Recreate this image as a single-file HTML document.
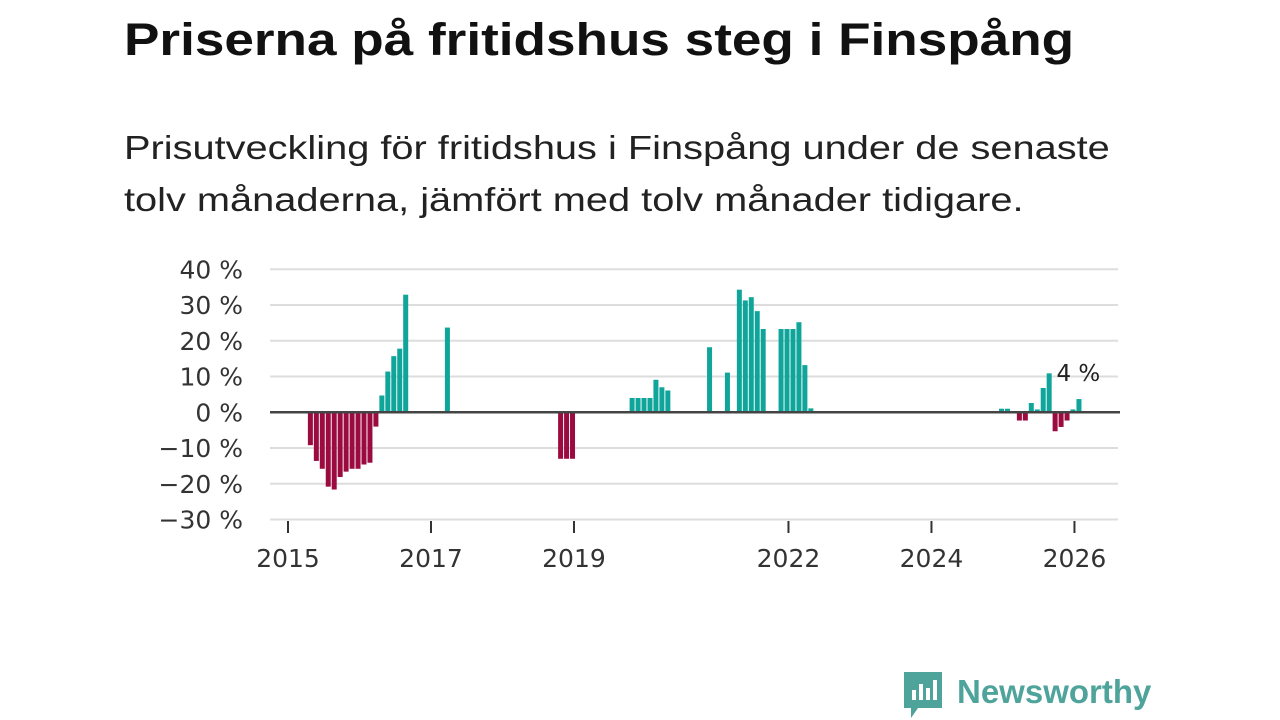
<!DOCTYPE html>
<html><head><meta charset="utf-8"><style>
body{margin:0;width:1280px;height:720px;background:#fff;overflow:hidden;font-family:"Liberation Sans",sans-serif;}
#title{position:absolute;left:124px;top:14px;font-size:45px;font-weight:bold;color:#111;margin:0;transform:scaleX(1.18);transform-origin:0 0;white-space:nowrap;}
#sub{position:absolute;left:124px;top:122px;font-size:33px;line-height:52px;color:#222;transform:scaleX(1.205);transform-origin:0 0;white-space:nowrap;}
svg{position:absolute;left:0;top:0;}
</style></head><body>
<h1 id="title">Priserna på fritidshus steg i Finspång</h1>
<div id="sub">Prisutveckling för fritidshus i Finspång under de senaste<br>tolv månaderna, jämfört med tolv månader tidigare.</div>
<svg id="chart" width="1280" height="720"></svg>
<script>
const monthIdx=[3,4,5,6,7,8,9,10,11,12,13,14,15,16,17,18,19,26,45,46,47,57,58,59,60,61,62,63,70,73,75,76,77,78,79,82,83,84,85,86,87,119,120,122,123,124,125,126,127,128,129,130,131,132];
const values=[-9.2,-13.6,-15.8,-20.8,-21.6,-18.1,-16.6,-15.8,-15.8,-14.6,-14.1,-4,4.7,11.4,15.7,17.8,32.9,23.7,-13,-13,-13,4,4,4,4,9.1,7,6.1,18.2,11.1,34.3,31.3,32.2,28.3,23.3,23.3,23.3,23.3,25.2,13.2,1.1,1,1,-2.3,-2.3,2.6,0.8,6.8,10.9,-5.3,-4.1,-2.3,0.8,3.7];
const yTicks=[40,30,20,10,0,-10,-20,-30];
const xTickYears=[2015,2017,2019,2022,2024,2026];
const lastLabel="4 %";
const svg=document.getElementById('chart');const NS='http://www.w3.org/2000/svg';
const AX='DejaVu Sans, sans-serif';
const y=v=>412.3-v*3.575;
const x=m=>288+m*5.958;
function mk(t,a){const e=document.createElementNS(NS,t);for(const k in a)e.setAttribute(k,a[k]);svg.appendChild(e);return e;}
yTicks.forEach(t=>{
 if(t!==0){const g=mk('line',{x1:270,x2:1118,y1:y(t),y2:y(t),stroke:'#ddd','stroke-width':2});
 
 }
 const l=mk('text',{x:243,y:y(t)+9,'text-anchor':'end','font-size':25,fill:'#333','font-family':AX});
 l.textContent=(t<0?'−'+(-t):t)+' %';
 
 
});
xTickYears.forEach(yr=>{
 const xx=x((yr-2015)*12);
 const t=mk('line',{x1:xx,x2:xx,y1:521,y2:533,stroke:'#333','stroke-width':2});
 
 
 const l=mk('text',{x:xx,y:567,'text-anchor':'middle','font-size':25,fill:'#333','font-family':AX});
 l.textContent=yr;
 
 
});
monthIdx.forEach((m,i)=>{
 const v=values[i];
 const r=mk('rect',{x:x(m)+2,width:5,y:Math.min(y(v),y(0)),height:Math.abs(y(v)-y(0)),fill:v>=0?'#0fa59a':'#9b0b3f'});
 
 
});
const z=mk('line',{x1:270,x2:1120,y1:y(0),y2:y(0),stroke:'#444','stroke-width':2.5});


const li=monthIdx.length-1;
const lab=mk('text',{x:x(monthIdx[li])-18,y:y(values[li])-18,'font-size':23,fill:'#222','font-family':AX});
lab.textContent=lastLabel;


</script>
<svg width="1280" height="720" style="pointer-events:none">
<path d="M904 672 h38 v36 h-24 l-7 10 v-10 h-7 z" fill="#4ea39a"/>
<rect x="912" y="690" width="4" height="10" fill="#fff"/><rect x="919" y="684" width="4" height="16" fill="#fff"/><rect x="926" y="688" width="4" height="12" fill="#fff"/><rect x="933" y="680" width="4" height="20" fill="#fff"/>
<text x="957" y="703" font-size="33" font-weight="bold" fill="#4ea39a" font-family="Liberation Sans, sans-serif">Newsworthy</text>
</svg>
</body></html>
